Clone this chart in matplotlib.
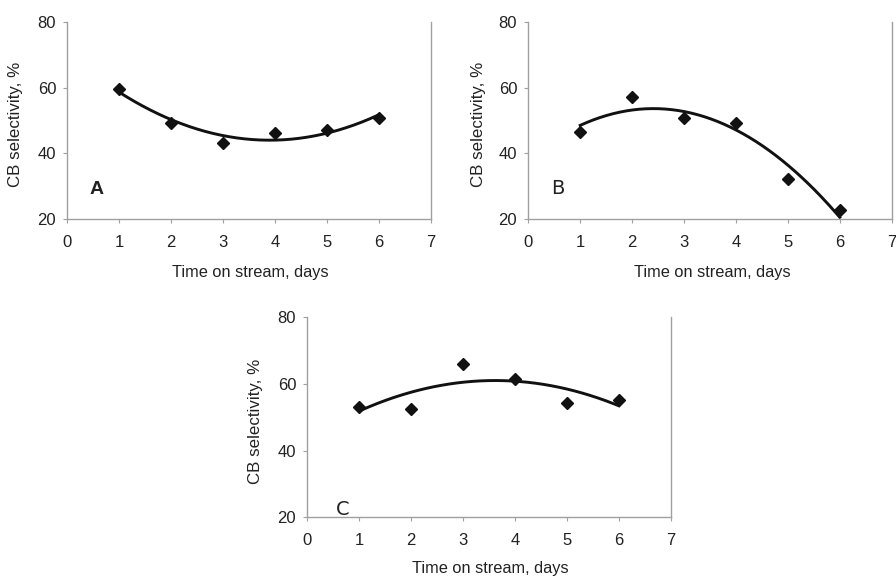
import numpy as np
import matplotlib
matplotlib.use("Agg")
import matplotlib.pyplot as plt

plt.rcParams['font.family'] = ['Liberation Sans', 'DejaVu Sans']

days = [1, 2, 3, 4, 5, 6]
sel_A = [59.6, 49.3, 43.3, 46.1, 47.2, 50.7]
sel_B = [46.5, 57.2, 50.7, 49.3, 32.2, 22.7]
sel_C = [53.2, 52.5, 65.9, 61.6, 54.3, 55.2]
x_ticks = [0, 1, 2, 3, 4, 5, 6, 7]
y_ticks = [20, 40, 60, 80]
panel_labels = ["A", "B", "C"]
xlabel = "Time on stream, days"
ylabel = "CB selectivity, %"

W, H = 896, 577
fig = plt.figure(figsize=(W / 100, H / 100), dpi=100)

def px_rect(l, t, r, b):
    return [l / W, 1 - b / H, (r - l) / W, (b - t) / H]

rects = [px_rect(67.3, 21.7, 430.7, 219.3),
         px_rect(528.3, 21.7, 891.7, 219.3),
         px_rect(307.3, 317.3, 670.7, 517.3)]
ylab_pos = [(16, 124), (478, 124), (255, 421)]
xlab_pos = [(250, 272), (712, 273), (490, 569)]
letter_pos = [(0.57, 29.2), (0.56, 29.5), (0.68, 22.4)]
letter_font = [dict(family='Liberation Sans', weight='bold', size=14),
               dict(family='DejaVu Sans', weight='normal', size=14),
               dict(family='DejaVu Sans', weight='normal', size=14)]

spine_c = '#a0a0a0'
for i, (data, rect) in enumerate(zip([sel_A, sel_B, sel_C], rects)):
    ax = fig.add_axes(rect)
    ax.set_xlim(0, 7)
    ax.set_ylim(20, 80)
    ax.set_xticks(x_ticks)
    ax.set_yticks(y_ticks)
    ax.tick_params(direction='out', length=3, width=0.8, color=spine_c,
                   labelsize=12, labelcolor='#222222')
    ax.tick_params(axis='x', pad=8)
    ax.tick_params(axis='y', pad=5)
    for s in ['left', 'bottom', 'right']:
        ax.spines[s].set_color(spine_c)
        ax.spines[s].set_linewidth(1.0)
    ax.spines['top'].set_visible(False)
    coef = np.polyfit(days, data, 2)
    xs = np.linspace(days[0], days[-1], 200)
    ax.plot(xs, np.polyval(coef, xs), color='#111111', lw=2.1, zorder=2)
    ax.plot(days, data, linestyle='none', marker='D', markersize=6,
            color='#111111', zorder=3, clip_on=False)
    lx, ly = letter_pos[i]
    ax.text(lx, ly, panel_labels[i], ha='center', va='center',
            color='#222222', **letter_font[i])
    yx, yy = ylab_pos[i]
    fig.text(yx / W, 1 - yy / H, ylabel, rotation=90, ha='center',
             va='center', fontsize=12.2, color='#222222')
    xx, xy = xlab_pos[i]
    fig.text(xx / W, 1 - xy / H, xlabel, ha='center', va='center',
             fontsize=11.8, color='#222222')

fig.savefig('out.png', dpi=100)
